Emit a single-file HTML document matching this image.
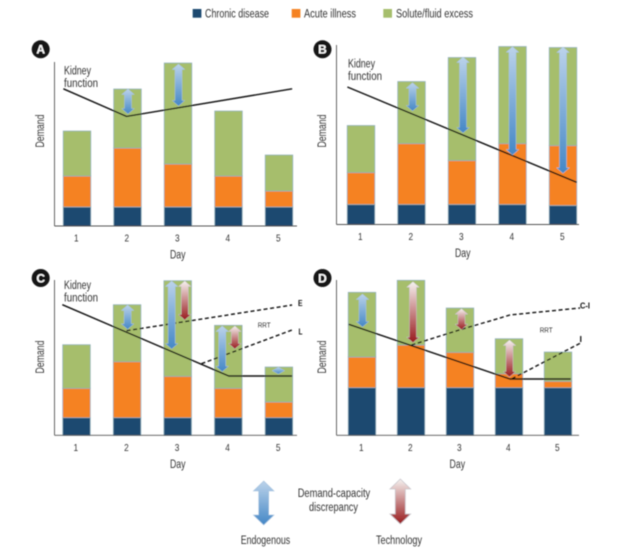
<!DOCTYPE html>
<html lang="en">
<head>
<meta charset="utf-8">
<title>Demand-capacity discrepancy by day</title>
<style>
html,body{margin:0;padding:0;background:#fff;}
#chart{display:block;width:640px;height:551px;}
text{font-family:"Liberation Sans",sans-serif;fill:#333;}
</style>
</head>
<body>
<svg id="chart" xmlns="http://www.w3.org/2000/svg" width="640" height="551" viewBox="0 0 640 551">
  <defs>
    <linearGradient id="blueGrad" x1="0" y1="0" x2="0" y2="1">
      <stop offset="0" stop-color="#bcd3ea"/>
      <stop offset="1" stop-color="#4487c6"/>
    </linearGradient>
    <linearGradient id="redGrad" x1="0" y1="0" x2="0" y2="1">
      <stop offset="0" stop-color="#f6f3f1"/>
      <stop offset="1" stop-color="#98191c"/>
    </linearGradient>
    <filter id="soft" filterUnits="userSpaceOnUse" x="0" y="0" width="640" height="551">
      <feGaussianBlur stdDeviation="0.4"/>
    </filter>
  </defs>
  <g id="root" filter="url(#soft)">
    <g>
      <rect x="192.7" y="9" width="8.7" height="8.7" fill="#1a4a70"/>
      <text x="205" y="17.7" font-size="11.5" textLength="64" lengthAdjust="spacingAndGlyphs">Chronic disease</text>
      <rect x="291.7" y="9" width="8.7" height="8.7" fill="#f58220"/>
      <text x="304" y="17.7" font-size="11.5" textLength="52" lengthAdjust="spacingAndGlyphs">Acute illness</text>
      <rect x="383.3" y="9" width="8.7" height="8.7" fill="#a6be6c"/>
      <text x="396" y="17.7" font-size="11.5" textLength="77" lengthAdjust="spacingAndGlyphs">Solute/fluid excess</text>
    </g>
    <g>
      <text x="297.7" y="497" font-size="11.5" textLength="72.5" lengthAdjust="spacingAndGlyphs">Demand-capacity</text>
      <text x="309" y="511" font-size="11.5" textLength="49" lengthAdjust="spacingAndGlyphs">discrepancy</text>
      <text x="240.7" y="544" font-size="11.5" textLength="49.5" lengthAdjust="spacingAndGlyphs">Endogenous</text>
      <text x="376" y="544" font-size="11.5" textLength="46" lengthAdjust="spacingAndGlyphs">Technology</text>
      <polygon points="263.7,481 274,491 268.7,491 268.7,515 274,515 263.7,525 253.4,515 258.7,515 258.7,491 253.4,491" fill="url(#blueGrad)" stroke="#a9c4df" stroke-width="0.6"/>
      <polygon points="400.3,479 410.6,489 405.3,489 405.3,514 410.6,514 400.3,524 390,514 395.3,514 395.3,489 390,489" fill="url(#redGrad)" stroke="#c9c6cc" stroke-width="0.8"/>
    </g>
  </g>
<script>
// Shared category labels
const dayLabels = ['1', '2', '3', '4', '5'];

// Panel A values (demand units)
const aChronic = [9.5, 9.5, 9.5, 9.5, 9.5];
const aAcute = [15.5, 29.5, 21.5, 15.5, 8];
const aSolute = [22.5, 29.5, 50.5, 32.5, 18];
const aKidneyDays = [0.73, 1.98, 5.26];
const aKidneyValues = [68.6, 54.8, 68.6];
const aBlueDays = [2.01, 3.01];
const aBlueTops = [68.5, 81];
const aBlueBottoms = [56, 60];

// Panel B values
const bChronic = [10, 10, 10, 10, 9.5];
const bAcute = [16, 30.5, 22, 30.5, 30];
const bSolute = [23.5, 31, 51.5, 48.5, 49];
const bKidneyDays = [0.73, 5.27];
const bKidneyValues = [68.75, 21.1];
const bBlueDays = [2.02, 3.02, 4.0, 5.0];
const bBlueTops = [70.9, 83.75, 88.9, 88.75];
const bBlueBottoms = [56.75, 45.75, 34.75, 25.6];

// Panel C values
const cChronic = [8.8, 8.8, 8.8, 8.8, 8.8];
const cAcute = [14.7, 28, 20.7, 14.7, 7.85];
const cSolute = [21.8, 28.5, 47.8, 31.5, 17.5];
const cKidneyDays = [0.72, 4.01, 5.26];
const cKidneyValues = [65.3, 29.65, 29.65];
const cEarlyDays = [1.99, 5.26];
const cEarlyValues = [52.3, 65.15];
const cLateDays = [3.47, 5.26];
const cLateValues = [35.8, 52.65];
const cBlueDays = [2.01, 2.88, 3.88, 4.99];
const cBlueTops = [65.15, 77.15, 54.65, 34];
const cBlueBottoms = [53, 43.15, 31.8, 30.65];
const cRedDays = [3.14, 4.13];
const cRedTops = [77.15, 54.65];
const cRedBottoms = [57.65, 43.15];

// Panel D values
const dChronic = [23.8, 23.8, 23.8, 23.8, 23.8];
const dAcute = [15.35, 21.35, 17.7, 7, 3.2];
const dSolute = [32.35, 32.35, 22.15, 17.5, 14.65];
const dKidneyDays = [0.73, 4.02, 5.26];
const dKidneyValues = [55.5, 28.15, 28.15];
const dContinuousDays = [2.01, 3.03, 3.68, 4.02, 4.36, 5.45];
const dContinuousValues = [45.15, 53, 57.65, 60.15, 61, 63.65];
const dIntermittentDays = [4.06, 5.45];
const dIntermittentValues = [28.3, 46];
const dBlueDays = [1.01];
const dBlueTops = [70.65];
const dBlueBottoms = [54.15];
const dRedDays = [2.04, 3.03, 4.01];
const dRedTops = [76.8, 63.3, 47.65];
const dRedBottoms = [46.3, 52.8, 29.15];

const SVG_NS = 'http://www.w3.org/2000/svg';
const PX_PER_UNIT = 2;
const BAR_WIDTH = 27.6;
const rootGroup = document.getElementById('root');

function make(tag, attrs, parent) {
  const node = document.createElementNS(SVG_NS, tag);
  Object.keys(attrs).forEach(function (k) { node.setAttribute(k, attrs[k]); });
  parent.appendChild(node);
  return node;
}

function drawPanel(p) {
  const xScale = function (day) { return p.x1 + (day - 1) * p.step; };
  const yScale = function (v) { return p.base - v * PX_PER_UNIT; };

  const g = make('g', {}, rootGroup);
  
  

  // Stacked bars
  const layers = [
    { key: 'chronic', values: p.chronic, color: '#1a4a70' },
    { key: 'acute', values: p.acute, color: '#f58220' },
    { key: 'solute', values: p.solute, color: '#a6be6c' }
  ];
  dayLabels.forEach(function (label, i) {
    let running = 0;
    layers.forEach(function (layer) {
      const v = layer.values[i];
      const rect = make('rect', {
        x: xScale(i + 1) - BAR_WIDTH / 2,
        y: yScale(running + v),
        width: BAR_WIDTH,
        height: v * PX_PER_UNIT,
        fill: layer.color,
        stroke: '#8fb0bd',
        'stroke-width': 0.7
      }, g);
      
      
      running += v;
    });
  });

  // Axes
  const yAxis = make('line', { x1: p.axisX, y1: p.axisTop, x2: p.axisX, y2: p.base, stroke: '#555', 'stroke-width': 0.9 }, g);
  
  
  const xAxis = make('line', { x1: p.axisX, y1: p.base, x2: p.axisEnd, y2: p.base, stroke: '#555', 'stroke-width': 0.9 }, g);
  
  

  // Tick labels
  dayLabels.forEach(function (label, i) {
    const t = make('text', { x: xScale(i + 1) - 0.7, y: p.base + 15.7, 'font-size': 10.5, 'text-anchor': 'middle', textLength: 4.6, lengthAdjust: 'spacingAndGlyphs' }, g);
    t.textContent = label;
    
    
  });

  const dayTitle = make('text', { x: p.dayX, y: p.base + 32.5, 'font-size': 11.5, 'text-anchor': 'middle', textLength: 15.5, lengthAdjust: 'spacingAndGlyphs' }, g);
  dayTitle.textContent = 'Day';
  
  

  const demandTitle = make('text', { 'font-size': 11.5, 'text-anchor': 'middle', textLength: 33, lengthAdjust: 'spacingAndGlyphs', transform: 'translate(' + p.demandX + ' ' + p.demandY + ') rotate(-90)' }, g);
  demandTitle.textContent = 'Demand';
  
  

  // Lines
  const pointsOf = function (days, values) {
    return days.map(function (d, i) { return xScale(d) + ',' + yScale(values[i]); }).join(' ');
  };
  const kidney = make('polyline', { points: pointsOf(p.kidneyDays, p.kidneyValues), fill: 'none', stroke: '#111', 'stroke-width': 1.4 }, g);
  
  

  (p.dashed || []).forEach(function (d) {
    const dash = make('polyline', { points: pointsOf(d.days, d.values), fill: 'none', stroke: '#111', 'stroke-width': 1.4, 'stroke-dasharray': '4 2.6' }, g);
    
    
  });

  // Double-headed arrows
  const drawArrows = function (days, tops, bottoms, fill, edge, kind) {
    days.forEach(function (day, i) {
      const cx = xScale(day);
      const top = yScale(tops[i]);
      const bottom = yScale(bottoms[i]);
      const head = Math.min(5.5, (bottom - top) / 2);
      const wide = 6.3;
      const narrow = (bottom - top) < 2 * head + 1 ? 6.3 : 3.5;
      const pts = [
        [cx, top], [cx + wide, top + head], [cx + narrow, top + head],
        [cx + narrow, bottom - head], [cx + wide, bottom - head], [cx, bottom],
        [cx - wide, bottom - head], [cx - narrow, bottom - head],
        [cx - narrow, top + head], [cx - wide, top + head]
      ].map(function (q) { return q[0] + ',' + q[1]; }).join(' ');
      const arrow = make('polygon', { points: pts, fill: fill, stroke: edge, 'stroke-width': 0.5 }, g);
      
      
    });
  };
  drawArrows(p.blueDays, p.blueTops, p.blueBottoms, 'url(#blueGrad)', '#a9c4df', 'endogenous');
  if (p.redDays) {
    drawArrows(p.redDays, p.redTops, p.redBottoms, 'url(#redGrad)', '#c9c6cc', 'technology');
  }

  // Panel badge
  const badge = make('circle', { cx: p.badgeX, cy: p.badgeY, r: 9, fill: '#141414' }, g);
  
  
  const badgeText = make('text', { x: p.badgeX, y: p.badgeY + 4.3, 'font-size': 12, 'font-weight': 'bold', 'text-anchor': 'middle', style: 'fill:#fff' }, g);
  badgeText.textContent = p.id.toUpperCase();
  
  

  // Annotations
  (p.notes || []).forEach(function (n) {
    const attrs = { x: n.x, y: n.y, 'font-size': n.size, textLength: n.len, lengthAdjust: 'spacingAndGlyphs' };
    if (n.bold) { attrs['font-weight'] = 'bold'; attrs.style = 'fill:#111'; }
    const t = make('text', attrs, g);
    t.textContent = n.text;
    
    
  });
}

drawPanel({
  id: 'a', x1: 77, step: 50.5, base: 226, axisX: 54.5, axisTop: 62, axisEnd: 297,
  dayX: 177.7, demandX: 44, demandY: 131, badgeX: 40.7, badgeY: 49.3,
  chronic: aChronic, acute: aAcute, solute: aSolute,
  kidneyDays: aKidneyDays, kidneyValues: aKidneyValues,
  blueDays: aBlueDays, blueTops: aBlueTops, blueBottoms: aBlueBottoms,
  notes: [
    { text: 'Kidney', x: 64, y: 74.5, size: 11.5, len: 27, name: 'kidney-label-line-1' },
    { text: 'function', x: 64, y: 87, size: 11.5, len: 34, name: 'kidney-label-line-2' }
  ]
});

drawPanel({
  id: 'b', x1: 361, step: 50.5, base: 224.5, axisX: 336.5, axisTop: 45, axisEnd: 579,
  dayX: 462.7, demandX: 326, demandY: 131, badgeX: 322.5, badgeY: 49.3,
  chronic: bChronic, acute: bAcute, solute: bSolute,
  kidneyDays: bKidneyDays, kidneyValues: bKidneyValues,
  blueDays: bBlueDays, blueTops: bBlueTops, blueBottoms: bBlueBottoms,
  notes: [
    { text: 'Kidney', x: 348, y: 67.5, size: 11.5, len: 27, name: 'kidney-label-line-1' },
    { text: 'function', x: 348, y: 80, size: 11.5, len: 34, name: 'kidney-label-line-2' }
  ]
});

drawPanel({
  id: 'c', x1: 76.5, step: 50.6, base: 435.3, axisX: 54.5, axisTop: 280, axisEnd: 297,
  dayX: 177.7, demandX: 44, demandY: 357, badgeX: 40.7, badgeY: 278,
  chronic: cChronic, acute: cAcute, solute: cSolute,
  kidneyDays: cKidneyDays, kidneyValues: cKidneyValues,
  dashed: [
    { key: 'early', days: cEarlyDays, values: cEarlyValues },
    { key: 'late', days: cLateDays, values: cLateValues }
  ],
  blueDays: cBlueDays, blueTops: cBlueTops, blueBottoms: cBlueBottoms,
  redDays: cRedDays, redTops: cRedTops, redBottoms: cRedBottoms,
  notes: [
    { text: 'Kidney', x: 64, y: 289, size: 11.5, len: 27, name: 'kidney-label-line-1' },
    { text: 'function', x: 64, y: 301.5, size: 11.5, len: 34, name: 'kidney-label-line-2' },
    { text: 'E', x: 298, y: 306, size: 8, len: 4.5, bold: true, name: 'early-rrt-label' },
    { text: 'L', x: 298.5, y: 334.5, size: 8, len: 4, bold: true, name: 'late-rrt-label' },
    { text: 'RRT', x: 257.7, y: 327.5, size: 7, len: 13, name: 'rrt-label' }
  ]
});

drawPanel({
  id: 'd', x1: 362, step: 49, base: 435.3, axisX: 336.5, axisTop: 280, axisEnd: 579,
  dayX: 457.3, demandX: 326, demandY: 357, badgeX: 322.5, badgeY: 278,
  chronic: dChronic, acute: dAcute, solute: dSolute,
  kidneyDays: dKidneyDays, kidneyValues: dKidneyValues,
  dashed: [
    { key: 'continuous-to-intermittent', days: dContinuousDays, values: dContinuousValues },
    { key: 'intermittent', days: dIntermittentDays, values: dIntermittentValues }
  ],
  blueDays: dBlueDays, blueTops: dBlueTops, blueBottoms: dBlueBottoms,
  redDays: dRedDays, redTops: dRedTops, redBottoms: dRedBottoms,
  notes: [
    { text: 'C-I', x: 580, y: 308.5, size: 8, len: 10, bold: true, name: 'continuous-intermittent-label' },
    { text: 'I', x: 579.5, y: 342, size: 8, len: 2.5, bold: true, name: 'intermittent-label' },
    { text: 'RRT', x: 539.7, y: 332.5, size: 7, len: 13, name: 'rrt-label' }
  ]
});
</script>
</svg>
</body>
</html>
